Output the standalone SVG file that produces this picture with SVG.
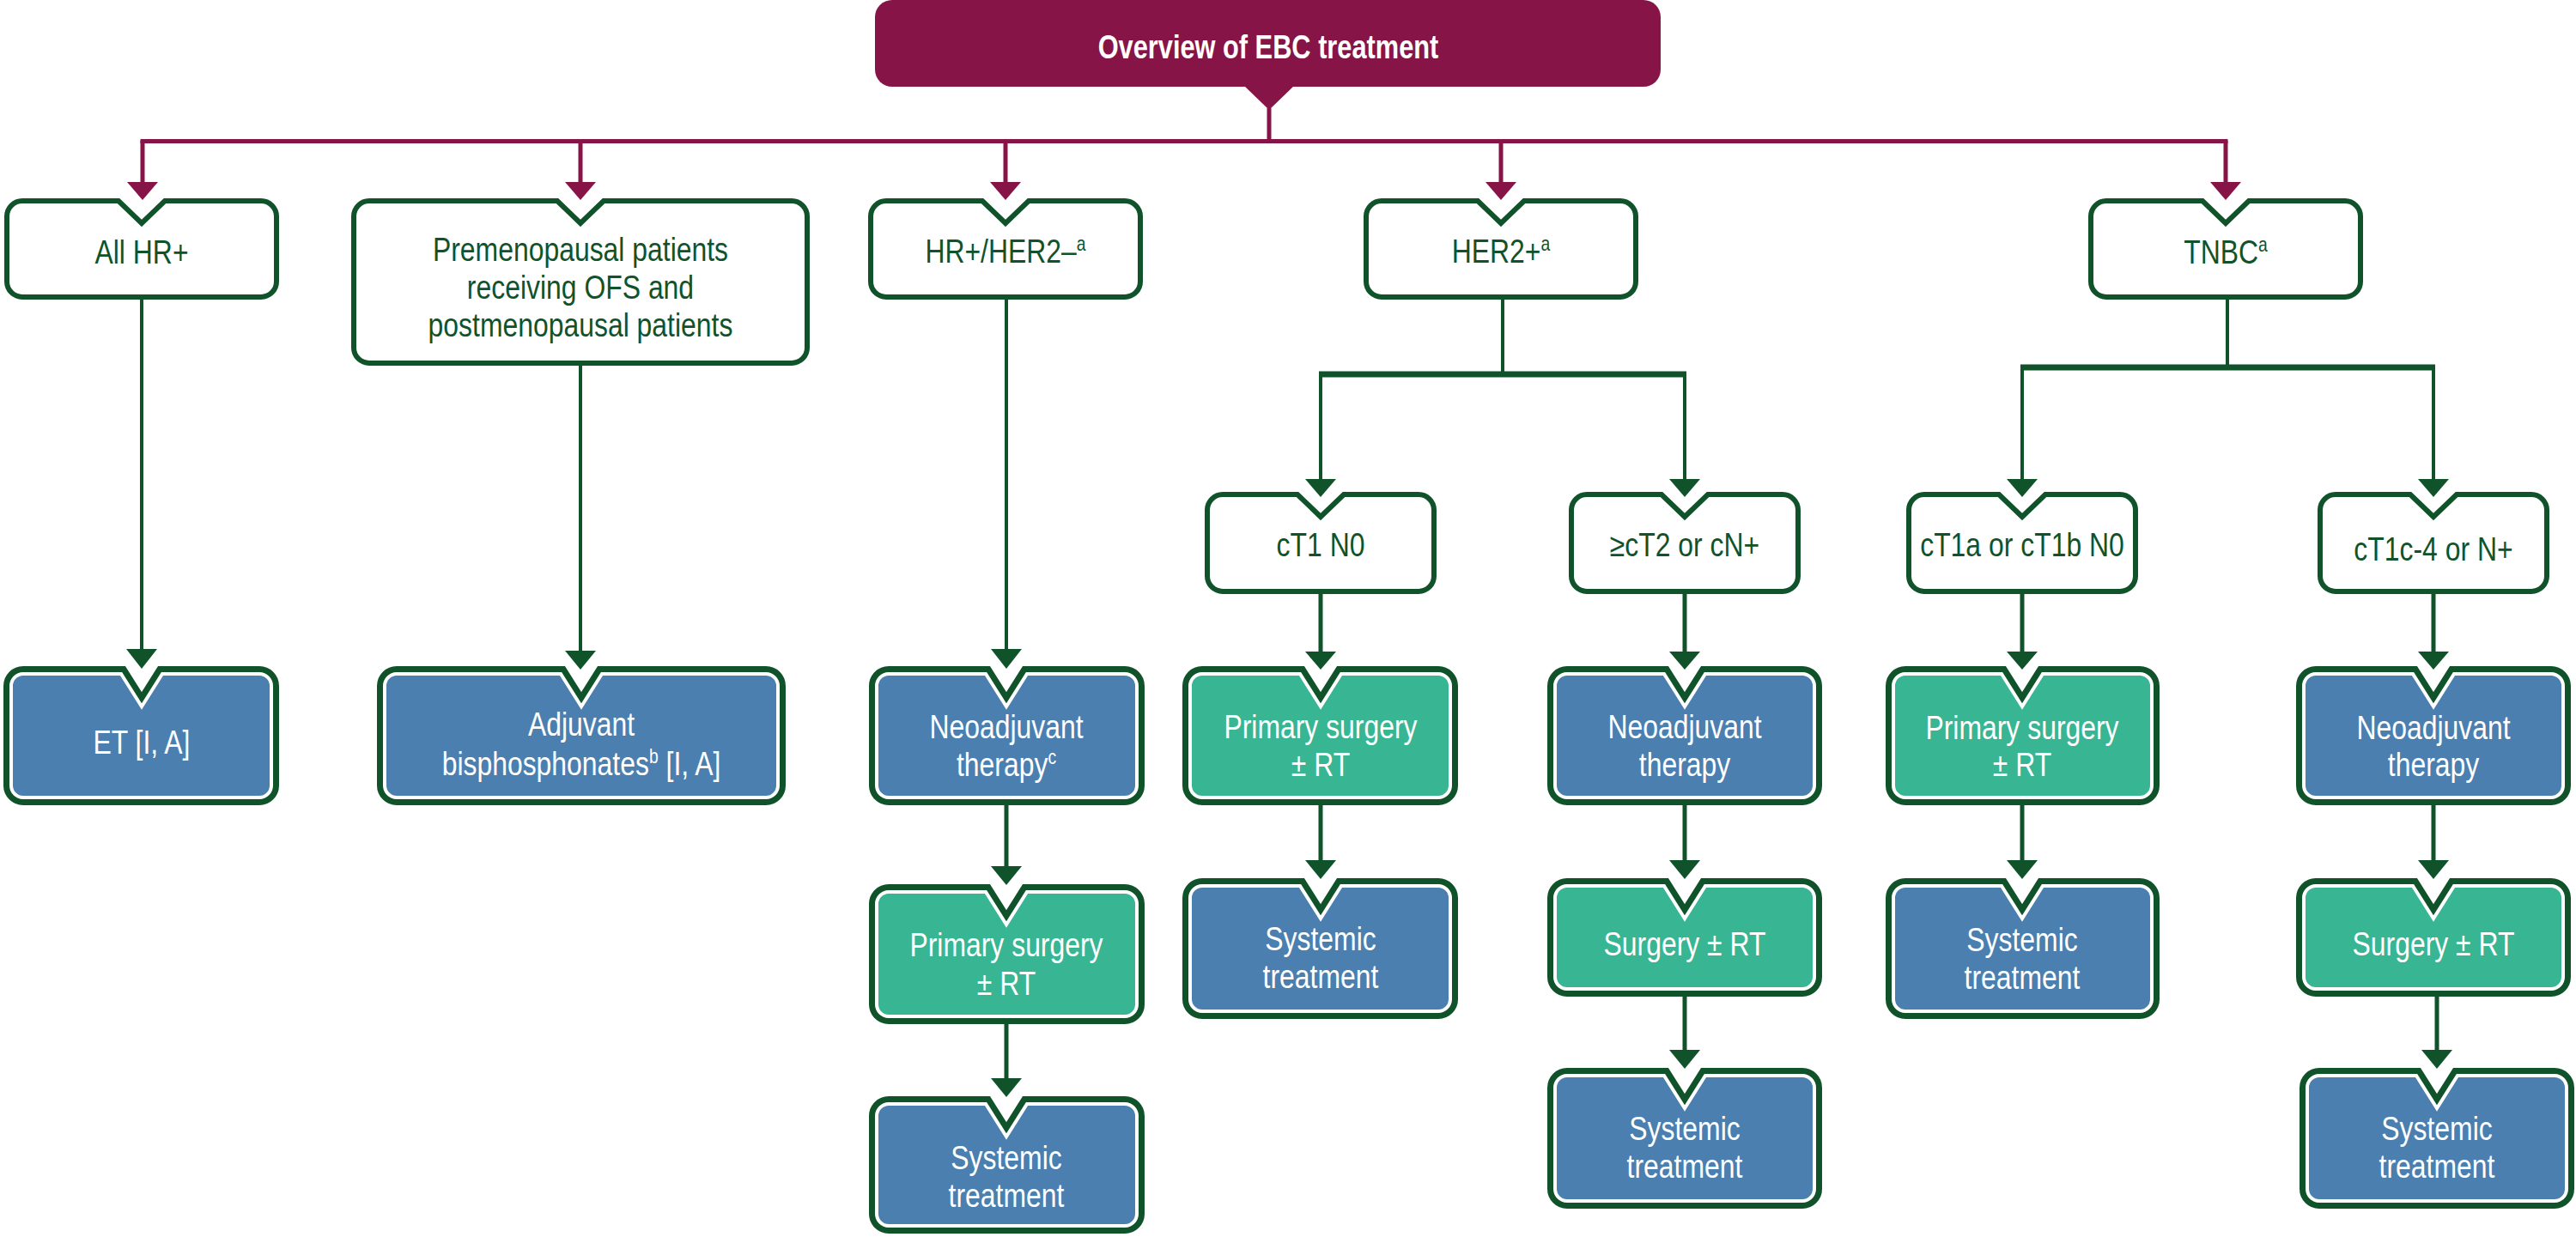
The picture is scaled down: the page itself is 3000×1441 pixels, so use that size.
<svg xmlns="http://www.w3.org/2000/svg" width="3000" height="1441" viewBox="0 0 3000 1441">
<style>
.mar{fill:#861446}
.ml{stroke:#861446;stroke-width:5;fill:none}
.gl{stroke:#10532a;stroke-width:4;fill:none}
.gl5{stroke:#10532a;stroke-width:5;fill:none}
.gb{stroke:#10532a;stroke-width:7;fill:none}
.gh{fill:#10532a}
.wb{fill:#fff;stroke:#10532a;stroke-width:6}
.go{fill:none;stroke:#10532a;stroke-width:18;stroke-linejoin:miter}
.blue{fill:#4a7fb0;stroke:#fff;stroke-width:4}
.teal{fill:#38b592;stroke:#fff;stroke-width:4}
text{font-family:"Liberation Sans",Arial,sans-serif;font-size:38px;text-anchor:middle}
.tg{fill:#10532a}
.tw{fill:#fff}
.tt{fill:#fff;font-weight:bold}
.sup{font-size:23px}
</style>
<g id="connectors">
<polygon class="mar" points="1449,100 1507,100 1478,128"/>
<line class="ml" x1="1478" y1="126" x2="1478" y2="165"/>
<line class="ml" x1="163.5" y1="164.5" x2="2594.5" y2="164.5"/>
<line class="ml" x1="166" y1="164" x2="166" y2="214"/><polygon class="mar" points="148,212 184,212 166,233"/>
<line class="ml" x1="676" y1="164" x2="676" y2="214"/><polygon class="mar" points="658,212 694,212 676,233"/>
<line class="ml" x1="1171" y1="164" x2="1171" y2="214"/><polygon class="mar" points="1153,212 1189,212 1171,233"/>
<line class="ml" x1="1748" y1="164" x2="1748" y2="214"/><polygon class="mar" points="1730,212 1766,212 1748,233"/>
<line class="ml" x1="2592" y1="164" x2="2592" y2="214"/><polygon class="mar" points="2574,212 2610,212 2592,233"/>

<line class="gl" x1="165" y1="349" x2="165" y2="758"/><polygon class="gh" points="147,756 183,756 165,779"/>
<line class="gl" x1="676" y1="426" x2="676" y2="760"/><polygon class="gh" points="658,758 694,758 676,780"/>
<line class="gl" x1="1172" y1="349" x2="1172" y2="758"/><polygon class="gh" points="1154,756 1190,756 1172,779"/>

<line class="gl" x1="1750" y1="349" x2="1750" y2="436"/>
<line class="gb" x1="1536" y1="436" x2="1964" y2="436"/>
<line class="gl" x1="1538" y1="436" x2="1538" y2="560"/><polygon class="gh" points="1520,558 1556,558 1538,579"/>
<line class="gl" x1="1962" y1="436" x2="1962" y2="560"/><polygon class="gh" points="1944,558 1980,558 1962,579"/>

<line class="gl" x1="2594" y1="349" x2="2594" y2="428"/>
<line class="gb" x1="2353" y1="428" x2="2836" y2="428"/>
<line class="gl" x1="2355" y1="428" x2="2355" y2="560"/><polygon class="gh" points="2337,558 2373,558 2355,579"/>
<line class="gl" x1="2834" y1="428" x2="2834" y2="560"/><polygon class="gh" points="2816,558 2852,558 2834,579"/>

<line class="gl5" x1="1538" y1="692" x2="1538" y2="762"/><polygon class="gh" points="1520,759 1556,759 1538,780"/>
<line class="gl5" x1="1962" y1="692" x2="1962" y2="762"/><polygon class="gh" points="1944,759 1980,759 1962,780"/>
<line class="gl5" x1="2355" y1="692" x2="2355" y2="762"/><polygon class="gh" points="2337,759 2373,759 2355,780"/>
<line class="gl5" x1="2834" y1="692" x2="2834" y2="762"/><polygon class="gh" points="2816,759 2852,759 2834,780"/>

<line class="gl5" x1="1172" y1="938" x2="1172" y2="1011"/><polygon class="gh" points="1154,1009 1190,1009 1172,1031"/>
<line class="gl5" x1="1172" y1="1193" x2="1172" y2="1258"/><polygon class="gh" points="1154,1256 1190,1256 1172,1278"/>
<line class="gl5" x1="1538" y1="938" x2="1538" y2="1004"/><polygon class="gh" points="1520,1002 1556,1002 1538,1024"/>
<line class="gl5" x1="1962" y1="938" x2="1962" y2="1004"/><polygon class="gh" points="1944,1002 1980,1002 1962,1024"/>
<line class="gl5" x1="2355" y1="938" x2="2355" y2="1004"/><polygon class="gh" points="2337,1002 2373,1002 2355,1024"/>
<line class="gl5" x1="2834" y1="938" x2="2834" y2="1004"/><polygon class="gh" points="2816,1002 2852,1002 2834,1024"/>
<line class="gl5" x1="1962" y1="1161" x2="1962" y2="1225"/><polygon class="gh" points="1944,1223 1980,1223 1962,1245"/>
<line class="gl5" x1="2838" y1="1161" x2="2838" y2="1225"/><polygon class="gh" points="2820,1223 2856,1223 2838,1245"/>
</g>

<g id="title">
<rect class="mar" x="1019" y="0" width="915" height="101" rx="20"/>
<g transform="matrix(0.81 0 0 1 280.63 0)"><text class="tt" x="1477" y="68">Overview of EBC treatment</text></g>
</g>

<g id="all-hr">
<path class="wb" d="M26,234 H138 L165,260 L192,234 H304 A18,18 0 0 1 322,252 V328 A18,18 0 0 1 304,346 H26 A18,18 0 0 1 8,328 V252 A18,18 0 0 1 26,234 Z"/>
<g transform="matrix(0.84 0 0 1 26.4 0)"><text class="tg" x="165" y="307">All HR+</text></g>
</g>
<g id="premeno">
<path class="wb" d="M430,234 H649 L676,260 L703,234 H922 A18,18 0 0 1 940,252 V405 A18,18 0 0 1 922,423 H430 A18,18 0 0 1 412,405 V252 A18,18 0 0 1 430,234 Z"/>
<g transform="matrix(0.84 0 0 1 108.16 0)">
<text class="tg" x="676" y="304">Premenopausal patients</text>
<text class="tg" x="676" y="348">receiving OFS and</text>
<text class="tg" x="676" y="392">postmenopausal patients</text>
</g>
</g>
<g id="hr-her2neg">
<path class="wb" d="M1032,234 H1144 L1171,260 L1198,234 H1310 A18,18 0 0 1 1328,252 V328 A18,18 0 0 1 1310,346 H1032 A18,18 0 0 1 1014,328 V252 A18,18 0 0 1 1032,234 Z"/>
<g transform="matrix(0.84 0 0 1 187.36 0)"><text class="tg" x="1171" y="306">HR+/HER2–<tspan class="sup" dy="-14">a</tspan></text></g>
</g>
<g id="her2pos">
<path class="wb" d="M1609,234 H1721 L1748,260 L1775,234 H1887 A18,18 0 0 1 1905,252 V328 A18,18 0 0 1 1887,346 H1609 A18,18 0 0 1 1591,328 V252 A18,18 0 0 1 1609,234 Z"/>
<g transform="matrix(0.84 0 0 1 279.68 0)"><text class="tg" x="1748" y="306">HER2+<tspan class="sup" dy="-14">a</tspan></text></g>
</g>
<g id="tnbc">
<path class="wb" d="M2453,234 H2565 L2592,260 L2619,234 H2731 A18,18 0 0 1 2749,252 V328 A18,18 0 0 1 2731,346 H2453 A18,18 0 0 1 2435,328 V252 A18,18 0 0 1 2453,234 Z"/>
<g transform="matrix(0.84 0 0 1 414.72 0)"><text class="tg" x="2592" y="307">TNBC<tspan class="sup" dy="-14">a</tspan></text></g>
</g>

<g id="ct1n0">
<path class="wb" d="M1424,576 H1511 L1538,602 L1565,576 H1652 A18,18 0 0 1 1670,594 V671 A18,18 0 0 1 1652,689 H1424 A18,18 0 0 1 1406,671 V594 A18,18 0 0 1 1424,576 Z"/>
<g transform="matrix(0.84 0 0 1 246.08 0)"><text class="tg" x="1538" y="648">cT1 N0</text></g>
</g>
<g id="ct2cn">
<path class="wb" d="M1848,576 H1935 L1962,602 L1989,576 H2076 A18,18 0 0 1 2094,594 V671 A18,18 0 0 1 2076,689 H1848 A18,18 0 0 1 1830,671 V594 A18,18 0 0 1 1848,576 Z"/>
<g transform="matrix(0.84 0 0 1 313.92 0)"><text class="tg" x="1962" y="648">≥cT2 or cN+</text></g>
</g>
<g id="ct1ab">
<path class="wb" d="M2241,576 H2328 L2355,602 L2382,576 H2469 A18,18 0 0 1 2487,594 V671 A18,18 0 0 1 2469,689 H2241 A18,18 0 0 1 2223,671 V594 A18,18 0 0 1 2241,576 Z"/>
<g transform="matrix(0.84 0 0 1 376.8 0)"><text class="tg" x="2355" y="648">cT1a or cT1b N0</text></g>
</g>
<g id="ct1c4">
<path class="wb" d="M2720,576 H2807 L2834,602 L2861,576 H2948 A18,18 0 0 1 2966,594 V671 A18,18 0 0 1 2948,689 H2720 A18,18 0 0 1 2702,671 V594 A18,18 0 0 1 2720,576 Z"/>
<g transform="matrix(0.84 0 0 1 453.44 0)"><text class="tg" x="2834" y="653">cT1c-4 or N+</text></g>
</g>

<g id="et">
<path class="go" d="M27,785 H141 L165,823 L189,785 H302 A14,14 0 0 1 316,799 V915 A14,14 0 0 1 302,929 H27 A14,14 0 0 1 13,915 V799 A14,14 0 0 1 27,785 Z"/>
<path class="blue" d="M27,785 H141 L165,823 L189,785 H302 A14,14 0 0 1 316,799 V915 A14,14 0 0 1 302,929 H27 A14,14 0 0 1 13,915 V799 A14,14 0 0 1 27,785 Z"/>
<g transform="matrix(0.84 0 0 1 26.4 0)"><text class="tw" x="165" y="878">ET [I, A]</text></g>
</g>
<g id="adjuvant">
<path class="go" d="M462,785 H653 L677,823 L701,785 H892 A14,14 0 0 1 906,799 V915 A14,14 0 0 1 892,929 H462 A14,14 0 0 1 448,915 V799 A14,14 0 0 1 462,785 Z"/>
<path class="blue" d="M462,785 H653 L677,823 L701,785 H892 A14,14 0 0 1 906,799 V915 A14,14 0 0 1 892,929 H462 A14,14 0 0 1 448,915 V799 A14,14 0 0 1 462,785 Z"/>
<g transform="matrix(0.84 0 0 1 108.32 0)">
<text class="tw" x="677" y="857">Adjuvant</text>
<text class="tw" x="677" y="903">bisphosphonates<tspan class="sup" dy="-14">b</tspan><tspan dy="14"> [I, A]</tspan></text>
</g>
</g>
<g id="hr-neoadj">
<path class="go" d="M1035,785 H1148 L1172,823 L1196,785 H1310 A14,14 0 0 1 1324,799 V915 A14,14 0 0 1 1310,929 H1035 A14,14 0 0 1 1021,915 V799 A14,14 0 0 1 1035,785 Z"/>
<path class="blue" d="M1035,785 H1148 L1172,823 L1196,785 H1310 A14,14 0 0 1 1324,799 V915 A14,14 0 0 1 1310,929 H1035 A14,14 0 0 1 1021,915 V799 A14,14 0 0 1 1035,785 Z"/>
<g transform="matrix(0.84 0 0 1 187.52 0)">
<text class="tw" x="1172" y="860">Neoadjuvant</text>
<text class="tw" x="1172" y="904">therapy<tspan class="sup" dy="-14">c</tspan></text>
</g>
</g>
<g id="her2-primary">
<path class="go" d="M1400,785 H1514 L1538,823 L1562,785 H1675 A14,14 0 0 1 1689,799 V915 A14,14 0 0 1 1675,929 H1400 A14,14 0 0 1 1386,915 V799 A14,14 0 0 1 1400,785 Z"/>
<path class="teal" d="M1400,785 H1514 L1538,823 L1562,785 H1675 A14,14 0 0 1 1689,799 V915 A14,14 0 0 1 1675,929 H1400 A14,14 0 0 1 1386,915 V799 A14,14 0 0 1 1400,785 Z"/>
<g transform="matrix(0.84 0 0 1 246.08 0)">
<text class="tw" x="1538" y="860">Primary surgery</text>
<text class="tw" x="1538" y="904">± RT</text>
</g>
</g>
<g id="her2-neoadj">
<path class="go" d="M1825,785 H1938 L1962,823 L1986,785 H2099 A14,14 0 0 1 2113,799 V915 A14,14 0 0 1 2099,929 H1825 A14,14 0 0 1 1811,915 V799 A14,14 0 0 1 1825,785 Z"/>
<path class="blue" d="M1825,785 H1938 L1962,823 L1986,785 H2099 A14,14 0 0 1 2113,799 V915 A14,14 0 0 1 2099,929 H1825 A14,14 0 0 1 1811,915 V799 A14,14 0 0 1 1825,785 Z"/>
<g transform="matrix(0.84 0 0 1 313.92 0)">
<text class="tw" x="1962" y="860">Neoadjuvant</text>
<text class="tw" x="1962" y="904">therapy</text>
</g>
</g>
<g id="tnbc-primary">
<path class="go" d="M2219,785 H2331 L2355,823 L2379,785 H2492 A14,14 0 0 1 2506,799 V915 A14,14 0 0 1 2492,929 H2219 A14,14 0 0 1 2205,915 V799 A14,14 0 0 1 2219,785 Z"/>
<path class="teal" d="M2219,785 H2331 L2355,823 L2379,785 H2492 A14,14 0 0 1 2506,799 V915 A14,14 0 0 1 2492,929 H2219 A14,14 0 0 1 2205,915 V799 A14,14 0 0 1 2219,785 Z"/>
<g transform="matrix(0.84 0 0 1 376.8 0)">
<text class="tw" x="2355" y="861">Primary surgery</text>
<text class="tw" x="2355" y="904">± RT</text>
</g>
</g>
<g id="tnbc-neoadj">
<path class="go" d="M2697,785 H2810 L2834,823 L2858,785 H2971 A14,14 0 0 1 2985,799 V915 A14,14 0 0 1 2971,929 H2697 A14,14 0 0 1 2683,915 V799 A14,14 0 0 1 2697,785 Z"/>
<path class="blue" d="M2697,785 H2810 L2834,823 L2858,785 H2971 A14,14 0 0 1 2985,799 V915 A14,14 0 0 1 2971,929 H2697 A14,14 0 0 1 2683,915 V799 A14,14 0 0 1 2697,785 Z"/>
<g transform="matrix(0.84 0 0 1 453.44 0)">
<text class="tw" x="2834" y="861">Neoadjuvant</text>
<text class="tw" x="2834" y="904">therapy</text>
</g>
</g>

<g id="hr-primary">
<path class="go" d="M1035,1039 H1148 L1172,1077 L1196,1039 H1310 A14,14 0 0 1 1324,1053 V1170 A14,14 0 0 1 1310,1184 H1035 A14,14 0 0 1 1021,1170 V1053 A14,14 0 0 1 1035,1039 Z"/>
<path class="teal" d="M1035,1039 H1148 L1172,1077 L1196,1039 H1310 A14,14 0 0 1 1324,1053 V1170 A14,14 0 0 1 1310,1184 H1035 A14,14 0 0 1 1021,1170 V1053 A14,14 0 0 1 1035,1039 Z"/>
<g transform="matrix(0.84 0 0 1 187.52 0)">
<text class="tw" x="1172" y="1114">Primary surgery</text>
<text class="tw" x="1172" y="1159">± RT</text>
</g>
</g>
<g id="her2-systemic">
<path class="go" d="M1400,1032 H1514 L1538,1070 L1562,1032 H1675 A14,14 0 0 1 1689,1046 V1164 A14,14 0 0 1 1675,1178 H1400 A14,14 0 0 1 1386,1164 V1046 A14,14 0 0 1 1400,1032 Z"/>
<path class="blue" d="M1400,1032 H1514 L1538,1070 L1562,1032 H1675 A14,14 0 0 1 1689,1046 V1164 A14,14 0 0 1 1675,1178 H1400 A14,14 0 0 1 1386,1164 V1046 A14,14 0 0 1 1400,1032 Z"/>
<g transform="matrix(0.84 0 0 1 246.08 0)">
<text class="tw" x="1538" y="1107">Systemic</text>
<text class="tw" x="1538" y="1151">treatment</text>
</g>
</g>
<g id="her2-surgery">
<path class="go" d="M1825,1032 H1938 L1962,1070 L1986,1032 H2099 A14,14 0 0 1 2113,1046 V1138 A14,14 0 0 1 2099,1152 H1825 A14,14 0 0 1 1811,1138 V1046 A14,14 0 0 1 1825,1032 Z"/>
<path class="teal" d="M1825,1032 H1938 L1962,1070 L1986,1032 H2099 A14,14 0 0 1 2113,1046 V1138 A14,14 0 0 1 2099,1152 H1825 A14,14 0 0 1 1811,1138 V1046 A14,14 0 0 1 1825,1032 Z"/>
<g transform="matrix(0.84 0 0 1 313.92 0)"><text class="tw" x="1962" y="1113">Surgery ± RT</text></g>
</g>
<g id="tnbc-systemic">
<path class="go" d="M2219,1032 H2331 L2355,1070 L2379,1032 H2492 A14,14 0 0 1 2506,1046 V1164 A14,14 0 0 1 2492,1178 H2219 A14,14 0 0 1 2205,1164 V1046 A14,14 0 0 1 2219,1032 Z"/>
<path class="blue" d="M2219,1032 H2331 L2355,1070 L2379,1032 H2492 A14,14 0 0 1 2506,1046 V1164 A14,14 0 0 1 2492,1178 H2219 A14,14 0 0 1 2205,1164 V1046 A14,14 0 0 1 2219,1032 Z"/>
<g transform="matrix(0.84 0 0 1 376.8 0)">
<text class="tw" x="2355" y="1108">Systemic</text>
<text class="tw" x="2355" y="1152">treatment</text>
</g>
</g>
<g id="tnbc-surgery">
<path class="go" d="M2697,1032 H2810 L2834,1070 L2858,1032 H2971 A14,14 0 0 1 2985,1046 V1138 A14,14 0 0 1 2971,1152 H2697 A14,14 0 0 1 2683,1138 V1046 A14,14 0 0 1 2697,1032 Z"/>
<path class="teal" d="M2697,1032 H2810 L2834,1070 L2858,1032 H2971 A14,14 0 0 1 2985,1046 V1138 A14,14 0 0 1 2971,1152 H2697 A14,14 0 0 1 2683,1138 V1046 A14,14 0 0 1 2697,1032 Z"/>
<g transform="matrix(0.84 0 0 1 453.44 0)"><text class="tw" x="2834" y="1113">Surgery ± RT</text></g>
</g>

<g id="hr-systemic">
<path class="go" d="M1035,1286 H1148 L1172,1324 L1196,1286 H1310 A14,14 0 0 1 1324,1300 V1414 A14,14 0 0 1 1310,1428 H1035 A14,14 0 0 1 1021,1414 V1300 A14,14 0 0 1 1035,1286 Z"/>
<path class="blue" d="M1035,1286 H1148 L1172,1324 L1196,1286 H1310 A14,14 0 0 1 1324,1300 V1414 A14,14 0 0 1 1310,1428 H1035 A14,14 0 0 1 1021,1414 V1300 A14,14 0 0 1 1035,1286 Z"/>
<g transform="matrix(0.84 0 0 1 187.52 0)">
<text class="tw" x="1172" y="1362">Systemic</text>
<text class="tw" x="1172" y="1406">treatment</text>
</g>
</g>
<g id="her2-systemic2">
<path class="go" d="M1825,1253 H1938 L1962,1291 L1986,1253 H2099 A14,14 0 0 1 2113,1267 V1385 A14,14 0 0 1 2099,1399 H1825 A14,14 0 0 1 1811,1385 V1267 A14,14 0 0 1 1825,1253 Z"/>
<path class="blue" d="M1825,1253 H1938 L1962,1291 L1986,1253 H2099 A14,14 0 0 1 2113,1267 V1385 A14,14 0 0 1 2099,1399 H1825 A14,14 0 0 1 1811,1385 V1267 A14,14 0 0 1 1825,1253 Z"/>
<g transform="matrix(0.84 0 0 1 313.92 0)">
<text class="tw" x="1962" y="1328">Systemic</text>
<text class="tw" x="1962" y="1372">treatment</text>
</g>
</g>
<g id="tnbc-systemic2">
<path class="go" d="M2701,1253 H2814 L2838,1291 L2862,1253 H2975 A14,14 0 0 1 2989,1267 V1385 A14,14 0 0 1 2975,1399 H2701 A14,14 0 0 1 2687,1385 V1267 A14,14 0 0 1 2701,1253 Z"/>
<path class="blue" d="M2701,1253 H2814 L2838,1291 L2862,1253 H2975 A14,14 0 0 1 2989,1267 V1385 A14,14 0 0 1 2975,1399 H2701 A14,14 0 0 1 2687,1385 V1267 A14,14 0 0 1 2701,1253 Z"/>
<g transform="matrix(0.84 0 0 1 454.08 0)">
<text class="tw" x="2838" y="1328">Systemic</text>
<text class="tw" x="2838" y="1372">treatment</text>
</g>
</g>
</svg>
